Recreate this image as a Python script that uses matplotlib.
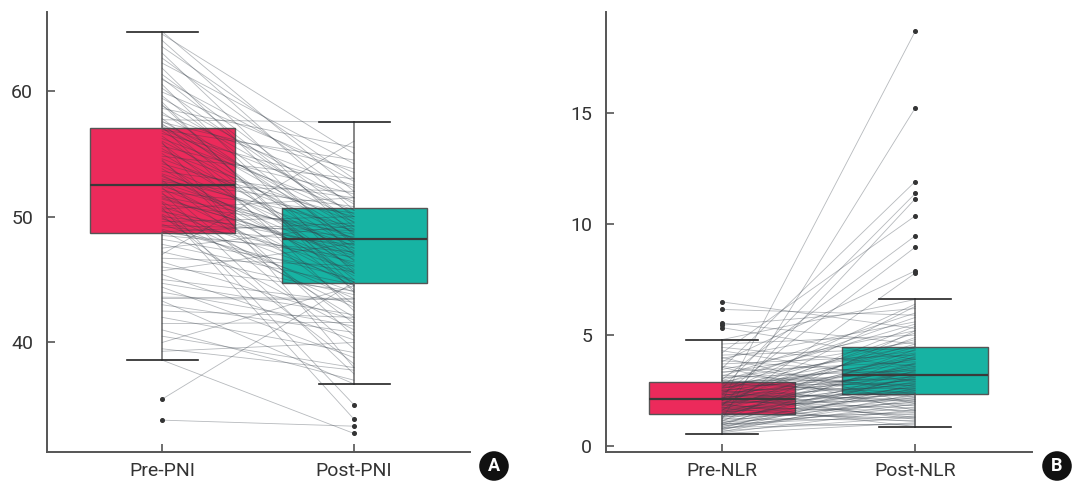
import matplotlib.pyplot as plt
import numpy as np

# ---- Panel A : PNI (pre / post pares) ----
pre_pni = [64.7, 64.5, 64.0, 63.5, 63.0, 62.6, 62.2, 61.8, 61.3, 60.9, 60.5, 60.2, 59.9, 59.6, 59.4,
           59.1, 58.8, 58.6, 58.3, 58.1, 57.7, 57.8, 57.6, 57.5, 57.4, 57.3, 57.2, 57.15, 58.9, 61.0,
           57.0, 56.8, 56.6, 56.4, 56.2, 56.0, 55.8, 55.6, 55.4, 55.2, 55.0, 54.8, 54.6, 54.4, 54.2,
           54.0, 53.8, 53.6, 53.4, 53.2, 53.0, 52.9, 52.8, 52.7, 52.6, 52.55, 54.5, 55.9, 56.9, 53.3,
           52.4, 52.2, 52.0, 51.8, 51.6, 51.4, 51.2, 51.0, 50.8, 50.6, 50.4, 50.2, 50.0, 49.8, 49.6,
           49.4, 49.2, 49.0, 48.9, 48.8, 48.75, 52.3, 51.9, 50.5, 49.9, 51.5, 49.3, 50.1, 51.1, 50.7,
           48.5, 48.2, 47.8, 47.5, 47.2, 47.0, 46.7, 46.4, 46.0, 45.7, 45.4, 45.0, 44.7, 44.4, 44.0,
           43.6, 43.5, 43.3, 43.0, 42.5, 42.0, 41.5, 41.0, 40.5, 40.0, 39.5, 38.6, 35.5, 33.83, 39.3]
post_pni = [52.0, 55.0, 50.5, 53.0, 48.5, 51.5, 54.2, 47.0, 50.0, 52.8, 45.5, 49.5, 53.5, 47.8, 51.0,
            44.0, 50.2, 55.5, 48.0, 52.3, 57.5, 46.5, 49.0, 53.8, 45.0, 51.2, 48.7, 42.5, 44.5, 49.2,
            49.8, 47.5, 52.5, 45.8, 50.5, 48.2, 44.2, 51.8, 47.0, 49.6, 46.0, 53.0, 48.8, 43.0, 50.0,
            47.3, 45.3, 51.5, 48.3, 46.6, 49.2, 41.5, 50.8, 47.7, 44.8, 52.0, 40.5, 38.0, 54.5, 45.5,
            48.0, 46.2, 50.3, 44.5, 48.6, 47.1, 42.0, 49.0, 45.7, 51.5, 47.5, 43.5, 48.4, 46.4, 50.0,
            44.0, 47.8, 45.0, 41.0, 49.5, 46.8, 39.5, 37.5, 44.8, 42.8, 46.9, 48.9, 38.3, 35.04, 33.9,
            47.2, 45.6, 44.6, 49.3, 43.8, 56.0, 46.1, 41.8, 44.1, 47.9, 40.2, 43.2, 42.2, 38.8, 41.3,
            43.5, 43.4, 36.7, 40.8, 42.0, 39.2, 41.6, 37.0, 38.0, 44.5, 37.8, 32.77, 44.8, 33.35, 40.0]

# estadisticas de las cajas
pni_cajas = {"Pre-PNI": dict(whislo=38.57, q1=48.68, med=52.49, q3=57.06, whishi=64.68, fliers=[35.5, 33.83]),
             "Post-PNI": dict(whislo=36.67, q1=44.71, med=48.25, q3=50.69, whishi=57.49,
                              fliers=[35.04, 33.9, 33.35, 32.77])}

# ---- Panel B : NLR ----
pre_nlr = [6.50, 6.16, 5.55, 5.45, 5.34, 4.80, 4.60, 4.45, 4.30, 4.20, 4.10, 3.95, 3.85, 3.80, 3.70,
           3.60, 3.50, 3.45, 3.35, 3.30, 3.20, 3.15, 3.10, 3.05, 3.00, 2.97, 2.95, 2.92, 4.00, 3.55,
           2.88, 2.85, 2.82, 2.80, 2.77, 2.74, 2.71, 2.68, 2.65, 2.60, 2.57, 2.54, 2.51, 2.48, 2.45,
           2.42, 2.39, 2.36, 2.33, 2.30, 2.27, 2.24, 2.21, 2.18, 2.16, 2.15, 2.50, 2.62, 2.35, 2.20,
           2.13, 2.10, 2.07, 2.04, 2.00, 1.97, 1.94, 1.91, 1.88, 1.85, 1.82, 1.80, 1.77, 1.74, 1.71,
           1.68, 1.65, 1.62, 1.60, 1.57, 1.54, 1.51, 1.49, 1.47, 1.95, 1.86, 1.72, 2.05, 1.58, 1.90,
           1.45, 1.42, 1.39, 1.36, 1.33, 1.30, 1.27, 1.24, 1.20, 1.17, 1.14, 1.11, 1.08, 1.05, 1.02,
           0.99, 0.96, 0.93, 0.90, 0.87, 0.84, 0.80, 0.76, 0.72, 0.68, 0.64, 0.60, 0.56, 1.00, 0.78]
post_nlr = [5.30, 5.90, 4.60, 6.20, 3.90, 6.61, 5.00, 3.60, 2.90, 10.38, 4.40, 5.60, 3.20, 7.90, 4.10,
            2.50, 11.93, 5.20, 3.80, 4.70, 2.70, 6.00, 3.40, 4.30, 9.48, 2.20, 5.50, 3.00, 1.90, 1.60,
            4.50, 3.30, 2.40, 5.80, 3.70, 2.80, 4.20, 1.80, 3.10, 11.39, 4.80, 2.60, 3.50, 1.50, 4.00,
            2.95, 6.40, 3.25, 2.10, 8.97, 3.60, 4.45, 2.35, 3.15, 1.30, 5.10, 2.00, 3.90, 1.20, 2.75,
            3.45, 2.45, 4.60, 1.70, 18.71, 3.00, 2.30, 5.40, 3.55, 1.40, 2.85, 11.15, 4.15, 2.15, 3.35,
            1.10, 2.65, 4.90, 7.80, 3.05, 1.95, 2.55, 3.75, 1.25, 2.05, 6.30, 1.60, 3.95, 2.40, 0.875,
            2.90, 1.85, 3.70, 2.25, 1.45, 4.35, 2.70, 1.15, 15.25, 3.10, 2.00, 5.20, 1.55, 2.50, 3.40,
            1.35, 2.20, 4.05, 1.75, 2.60, 1.00, 3.20, 1.90, 2.80, 1.30, 2.35, 1.65, 1.05, 0.95, 2.10]

nlr_cajas = {"Pre-NLR": dict(whislo=0.56, q1=1.46, med=2.14, q3=2.89, whishi=4.80,
                             fliers=[6.50, 6.16, 5.55, 5.45, 5.34]),
             "Post-NLR": dict(whislo=0.875, q1=2.33, med=3.22, q3=4.47, whishi=6.61,
                              fliers=[18.71, 15.25, 11.93, 11.39, 11.15, 10.38, 9.48, 8.97, 7.9, 7.8])}

colores = ["#EC2A5B", "#17B3A3"]


def dibujar_panel(ax, cajas, pre, post, ylim, yticks):
    stats = []
    for nombre, s in cajas.items():
        d = dict(s)
        d["label"] = nombre
        stats.append(d)
    bp = ax.bxp(stats, positions=[0, 1], widths=0.755, patch_artist=True, showfliers=True,
                boxprops=dict(edgecolor="#555555", linewidth=1.0),
                medianprops=dict(color="#3a3a3a", linewidth=1.6),
                whiskerprops=dict(color="#666666", linewidth=1.1),
                capprops=dict(color="#222222", linewidth=1.2),
                capwidths=0.37,
                flierprops=dict(marker="o", markersize=2.6, markerfacecolor="#333333",
                                markeredgecolor="#333333"))
    for caja, c in zip(bp["boxes"], colores):
        caja.set_facecolor(c)
        caja.set_zorder(1)
    for m in bp["medians"]:
        m.set_zorder(4)

    # lineas pareadas
    for a, b in zip(pre, post):
        ax.plot([0, 1], [a, b], color="#353e48", alpha=0.36, lw=0.6, zorder=3)

    ax.set_xlim(-0.6, 1.604)
    ax.set_ylim(*ylim)
    ax.set_yticks(yticks)
    ax.set_xticks([0, 1])
    ax.set_xticklabels(list(cajas.keys()))
    for lado in ["top", "right"]:
        ax.spines[lado].set_visible(False)
    for lado in ["left", "bottom"]:
        ax.spines[lado].set_color("#555555")
        ax.spines[lado].set_linewidth(1.4)
    ax.tick_params(axis="y", direction="in", length=6, width=1.2, color="#555555",
                   labelsize=14, labelcolor="#333333", pad=10)
    ax.tick_params(axis="x", direction="in", length=6, width=1.2, color="#555555",
                   labelsize=14, labelcolor="#333333", pad=7.5)


plt.rcParams["font.family"] = ["Roboto", "DejaVu Sans"]
fig = plt.figure(figsize=(10.77, 4.86), dpi=100)
ax1 = fig.add_axes([0.0436, 0.07, 0.3928, 0.905])
ax2 = fig.add_axes([0.5627, 0.07, 0.3955, 0.905])

dibujar_panel(ax1, pni_cajas, pre_pni, post_pni, (31.3, 66.25), [40, 50, 60])
dibujar_panel(ax2, nlr_cajas, pre_nlr, post_nlr, (-0.27, 19.57), [0, 5, 10, 15])

for x, letra in [(494 / 1077, "A"), (1057 / 1077, "B")]:
    fig.text(x, 1 - 466 / 486, letra, ha="center", va="center", color="white",
             fontsize=13, fontweight="bold",
             bbox=dict(boxstyle="circle,pad=0.32", facecolor="#111111", edgecolor="none"))

plt.savefig("out.png", dpi=100)
